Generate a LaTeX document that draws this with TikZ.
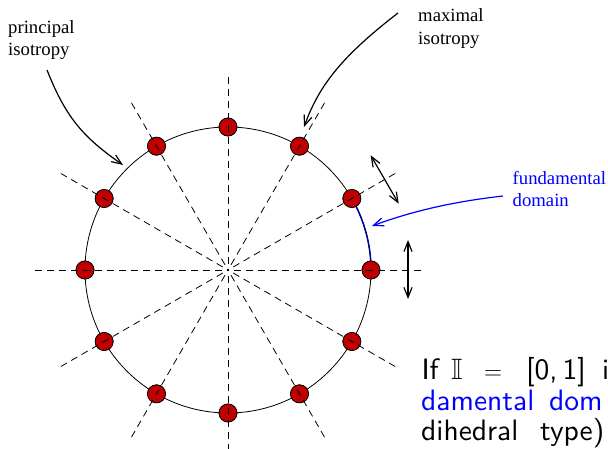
\documentclass[tikz,border=0pt]{standalone}
\usepackage{amssymb}
\usepackage{fontspec}
\setmainfont{Liberation Serif}
\newfontfamily\slidesans{lmsans10-regular.otf}
\usetikzlibrary{arrows.meta}
\definecolor{dotred}{RGB}{192,0,0}
\definecolor{fundblue}{RGB}{0,0,160}
\tikzset{
  dotnode/.style={circle, draw=black, line width=0.7pt, fill=dotred, minimum size=18pt, inner sep=0pt},
  ray/.style={dash pattern=on 7pt off 5pt, line width=0.8pt},
  rim/.style={line width=0.8pt},
  fund/.style={draw=fundblue, line width=1.5pt},
  callout/.style={-{Straight Barb[length=10pt,width=8pt]}, line width=1.2pt},
  twoway/.style={{Straight Barb[length=10pt,width=8pt]}-{Straight Barb[length=10pt,width=8pt]}, line width=1.2pt},
  lbl/.style={font=\fontsize{18.7}{22}\selectfont, anchor=base west, inner sep=0pt},
  slide/.style={font=\slidesans\fontsize{29.5}{34}\selectfont, anchor=base west, inner sep=0pt},
}
\begin{document}
\begin{tikzpicture}[x=1pt,y=-1pt]
\useasboundingbox (0,0) rectangle (608,449);
\begin{scope}
\clip (0,0) rectangle (608,449);
\coordinate (O) at (228,270);
% circle
\draw[rim] (O) circle[radius=143];
% dots
\foreach \a in {0,30,...,330}
  \node[dotnode] (d\a) at ({228+143*cos(\a)},{270-143*sin(\a)}) {};
% fundamental domain arc
\draw[fund] (d0.center) arc[start angle=0, end angle=-30, radius=143];
\foreach \a in {0,30,...,330}
  \node[dotnode] at (d\a) {};
% dashed rays
\foreach \a in {0,30,...,330} {
  \coordinate (r\a) at ({228+193*cos(\a)},{270-193*sin(\a)});
  \draw[ray] (r\a) -- (O);
}
% double arrows
\coordinate (p1) at (370.7,155.3);
\coordinate (p2) at (398.7,203.7);
\draw[twoway] (p1) -- (p2);
\coordinate (q1) at (408,240);
\coordinate (q2) at (408,299);
\draw[twoway] (q1) -- (q2);
% labels
\node[lbl] (pr1) at (8,34) {principal};
\node[lbl] (pr2) at (8,56) {isotropy};
\node[lbl] (mx1) at (418,22) {maximal};
\node[lbl] (mx2) at (418,45) {isotropy};
\node[lbl, text=blue] (fd1) at (512.5,185) {fundamental};
\node[lbl, text=blue] (fd2) at (512.5,207) {domain};
% callout arrows
\coordinate (pa) at (47,70);
\coordinate (pb) at (123,165);
\draw[callout] (pa) .. controls (65.5,116.5) and (82,136.5) .. (pb);
\coordinate (ma) at (398,13);
\coordinate (mb) at (304,127);
\draw[callout] (ma) .. controls (342.7,55.7) and (319.3,84.7) .. (mb);
\coordinate (fa) at (503,196);
\coordinate (fb) at (372,226);
\draw[callout, blue] (fa) .. controls (450,202) and (410,212) .. (fb);
% slide text
\node[slide] (t1a) at (421.3,379) {If};
\node[slide] (t1b) at (451,379) {$\mathbb{I}$};
\node[slide] (t1c) at (484,379) {$=$};
\node[slide] (t1d) at (526,379) {[0,\,1]};
\node[slide] (t1e) at (602,379) {i};
\node[slide, text=blue] (t2a) at (421,410) {damental};
\node[slide, text=blue] (t2b) at (549,410) {dom};
\node[slide] (t3a) at (421,440) {dihedral};
\node[slide] (t3b) at (540,440) {type)};
\end{scope}
\end{tikzpicture}
\end{document}
